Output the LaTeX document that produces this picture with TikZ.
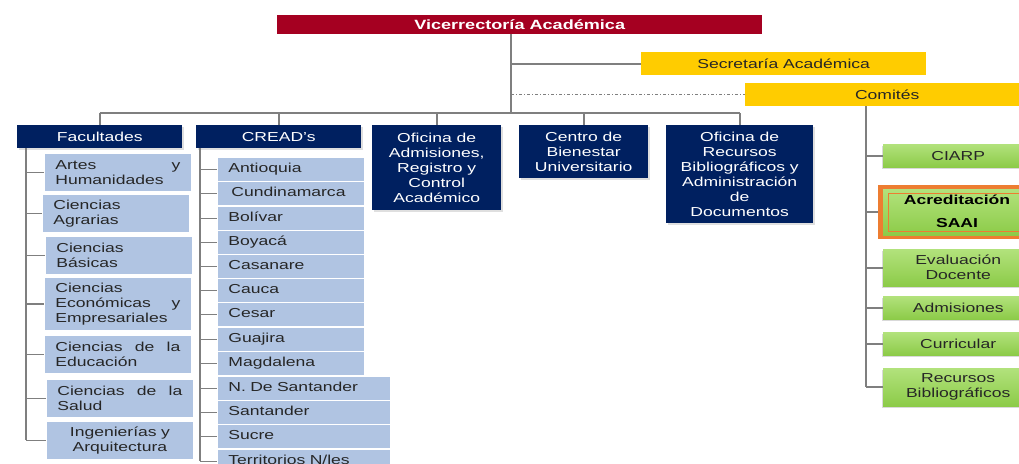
\documentclass[tikz,border=0pt]{standalone}
\usepackage{fontspec}
\setmainfont{Liberation Sans}[FakeStretch=1.35]
\usetikzlibrary{shadows}
\definecolor{redc}{HTML}{A50021}
\definecolor{navyc}{HTML}{002060}
\definecolor{yellowc}{HTML}{FFCC00}
\definecolor{lbluec}{HTML}{B0C4E2}
\definecolor{greenT}{HTML}{B2E27C}
\definecolor{greenB}{HTML}{8CCB48}
\definecolor{orangec}{HTML}{ED7D31}
\definecolor{linec}{HTML}{7F7F7F}
\definecolor{txtc}{HTML}{262626}
\begin{document}
\begin{tikzpicture}[x=1pt,y=-1pt,
  conn/.style={draw=linec, line width=1.6pt},
  base/.style={anchor=north west, inner sep=0pt, font=\fontsize{13}{15}\selectfont},
  redbox/.style={base, fill=redc, text=white, font=\fontsize{13.4}{15}\selectfont\bfseries},
  navybox/.style={base, fill=navyc, text=white, align=center,
    drop shadow={shadow xshift=1.5pt, shadow yshift=-1.5pt, opacity=0.25}},
  yelbox/.style={base, fill=yellowc, text=txtc},
  facbox/.style={base, fill=lbluec, draw=white, line width=0.8pt, text=txtc,
    text width=125pt, inner xsep=11pt, align=left, minimum height=38pt},
  crbox/.style={base, fill=lbluec, draw=white, line width=0.8pt, text=txtc,
    align=left, inner xsep=11pt, minimum height=24pt, text height=9.5pt, text depth=3pt},
  crA/.style={crbox, text width=125pt},
  crB/.style={crbox, text width=151pt},
  grbox/.style={base, top color=greenT, bottom color=greenB, text=txtc, align=center,
    minimum width=150pt,
    drop shadow={shadow xshift=-1.5pt, shadow yshift=-2pt, opacity=0.3}}
]
\useasboundingbox (0,0) rectangle (1019,463);

% top levels
\node[redbox, minimum width=485pt, minimum height=19pt] (vice) at (277,15) {Vicerrectoría Académica};
\node[yelbox, minimum width=285pt, minimum height=23pt] (sec) at (641,52) {Secretaría Académica};
\node[yelbox, minimum width=284pt, minimum height=23pt] (com) at (745,83) {Comités};

% second level
\node[navybox, minimum width=165pt, minimum height=23pt] (fac) at (17,125) {Facultades};
\node[navybox, minimum width=165pt, minimum height=23pt] (cre) at (196,125) {CREAD's};
\node[navybox, minimum width=129pt, minimum height=85pt] (oad) at (372,125) {Oficina de\\Admisiones,\\Registro y\\Control\\Académico};
\node[navybox, minimum width=129pt, minimum height=53pt] (cbu) at (519,125) {Centro de\\Bienestar\\Universitario};
\node[navybox, minimum width=147pt, minimum height=98pt] (orb) at (666,125) {Oficina de\\Recursos\\Bibliográficos y\\Administración\\de\\Documentos};

% trunk
\coordinate (t0) at (511,34);
\coordinate (t1) at (511,113);
\draw[conn] (t0) -- (t1);
\draw[conn] (t0 |- sec.west) -- (sec.west);
\draw[conn, line width=1pt, dash dot] (t0 |- com.west) -- (com.west);
\draw[conn] (fac.north |- t1) -- (orb.north |- t1);
\foreach \n in {fac,cre,oad,cbu,orb} \draw[conn] (\n.north |- t1) -- (\n.north);

% Facultades children
\node[facbox] (f1) at (44,153) {Artes\hfill y\\Humanidades};
\node[facbox] (f2) at (42,194) {Ciencias\\Agrarias};
\node[facbox] (f3) at (45,236) {Ciencias\\Básicas};
\node[facbox, minimum height=53pt] (f4) at (44,277) {Ciencias\\Económicas\hfill y\\Empresariales};
\node[facbox] (f5) at (44,335) {Ciencias\hfill de\hfill la\\Educación};
\node[facbox] (f6) at (46,379) {Ciencias\hfill de\hfill la\\Salud};
\node[facbox, align=center] (f7) at (46,421) {Ingenierías y\\Arquitectura};
\coordinate (fv) at (26,148);
\draw[conn] (fv) -- (fv |- f7.west);
\foreach \n in {f1,f2,f3,f4,f5,f6,f7} \draw[conn] (fv |- \n.west) -- (\n.west);

% CREAD children
\node[crA] (c1) at (217,157) {Antioquia};
\node[crA] (c2) at (217,181) {\hspace{3pt}Cundinamarca};
\node[crA] (c3) at (217,206) {Bolívar};
\node[crA] (c4) at (217,230) {Boyacá};
\node[crA] (c5) at (217,254) {Casanare};
\node[crA] (c6) at (217,278) {Cauca};
\node[crA] (c7) at (217,302) {Cesar};
\node[crA] (c8) at (217,327) {Guajira};
\node[crA] (c9) at (217,351) {Magdalena};
\node[crB] (c10) at (217,376) {N. De Santander};
\node[crB] (c11) at (217,400) {Santander};
\node[crB] (c12) at (217,424) {Sucre};
\node[crB] (c13) at (217,449) {Territorios N/les};
\coordinate (cv) at (200,148);
\draw[conn] (cv) -- (cv |- c13.west);
\foreach \n in {c1,c2,c3,c4,c5,c6,c7,c8,c9,c10,c11,c12,c13} \draw[conn] (cv |- \n.west) -- (\n.west);

% Comites children
\node[grbox, minimum height=23pt] (g1) at (883,144) {CIARP};
\node[base, fill=orangec, minimum width=160pt, minimum height=54pt] (g2) at (878,185) {};
\node[base, top color=greenT, bottom color=greenB, minimum width=155pt, minimum height=46pt] (g2in) at (883,189) {};
\draw[orangec, line width=0.8pt] (888,193) rectangle (1040,231);
\node[text=black, font=\fontsize{13}{23}\selectfont\bfseries, align=center, inner sep=0pt] (g2t) at (957,211) {Acreditación\\SAAI};
\node[grbox, minimum height=37pt] (g3) at (883,249) {Evaluación\\Docente};
\node[grbox, minimum height=23pt] (g4) at (883,296) {Admisiones};
\node[grbox, minimum height=23pt] (g5) at (883,332) {Curricular};
\node[grbox, minimum height=38pt] (g6) at (883,368) {Recursos\\Bibliográficos};
\coordinate (gv) at (866,106);
\draw[conn] (gv) -- (gv |- g6.west);
\foreach \n in {g1,g2,g3,g4,g5,g6} \draw[conn] (gv |- \n.west) -- (\n.west);
\end{tikzpicture}
\end{document}
